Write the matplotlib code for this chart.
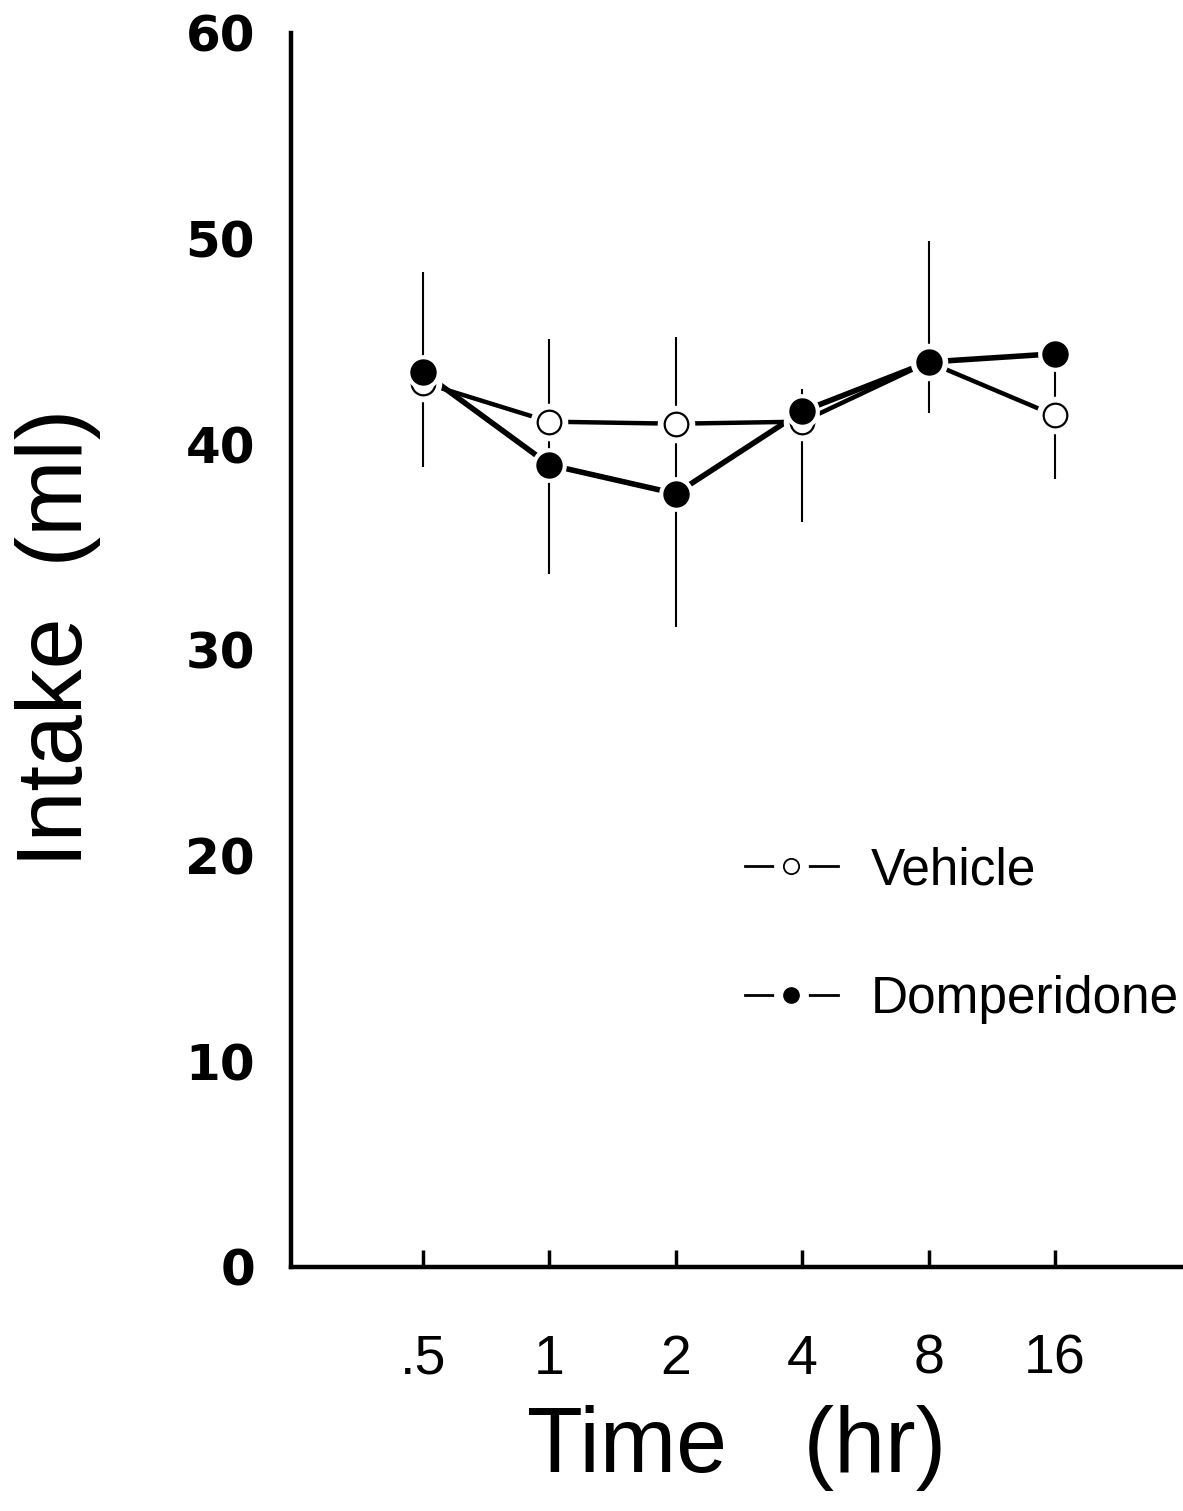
import numpy as np
import matplotlib
matplotlib.use('Agg')
import matplotlib.pyplot as plt
from matplotlib.lines import Line2D
from matplotlib.legend_handler import HandlerTuple
from matplotlib.ticker import FixedLocator

# data
times = ['.5', '1', '2', '4', '8', '16']
vehicle = [43.0, 41.1, 41.0, 41.1, 44.0, 41.4]
domperidone = [43.5, 39.0, 37.6, 41.6, 44.0, 44.4]
err_lo = [38.9, 33.7, 31.1, 36.2, 41.5, 38.3]
err_hi = [48.4, 45.1, 45.2, 42.7, 49.9, 44.2]
yticks = [0, 10, 20, 30, 40, 50, 60]

fig = plt.figure(figsize=(11.83, 15.11), dpi=100)
ax = fig.add_axes([0.246, 0.1615, 0.754, 0.8167])

x = np.arange(len(times))

# error bars (thin vertical lines)
ax.vlines(x, err_lo, err_hi, colors='k', lw=1.5, zorder=2)

# connecting lines
ax.plot(x, vehicle, color='k', lw=3.2, zorder=2, solid_capstyle='butt')
ax.plot(x, domperidone, color='k', lw=4.0, zorder=2, solid_capstyle='butt')

# white halos give the small gaps between lines and markers
ax.plot(x, vehicle, ls='none', marker='o', ms=26, mfc='white', mec='white', zorder=3)
ax.plot(x, vehicle, ls='none', marker='o', ms=17, mfc='white', mec='k', mew=1.6, zorder=4)
ax.plot(x, domperidone, ls='none', marker='o', ms=24, mfc='white', mec='white', zorder=5)
ax.plot(x, domperidone, ls='none', marker='o', ms=18, mfc='k', mec='k', zorder=6)

ax.set_xlim(-1.044, 6.013)
ax.set_ylim(0, 60)

for s in ['top', 'right']:
    ax.spines[s].set_visible(False)
for s in ['left', 'bottom']:
    ax.spines[s].set_linewidth(3.2)

ax.set_xticks(x)
ax.set_xticklabels(times, family=['Liberation Sans Narrow', 'Liberation Sans'], fontsize=40)
ax.tick_params(axis='x', direction='in', length=12, width=2.5, pad=48)

ax.set_yticks(yticks)
ax.set_yticklabels([str(v) for v in yticks], family='DejaVu Sans', fontweight='bold', fontsize=36)
ax.tick_params(axis='y', which='major', length=0, pad=26)
ax.yaxis.set_minor_locator(FixedLocator([60]))
ax.tick_params(axis='y', which='minor', direction='in', length=12, width=3)

ax.set_xlabel('Time   (hr)', family='Liberation Sans', fontsize=66)
ax.xaxis.set_label_coords(0.5, -0.112)
ax.set_ylabel('Intake  (ml)', family='Liberation Sans', fontsize=66)
ax.yaxis.set_label_coords(-0.213, 0.51)

# legend: line - marker - line with gaps
h_line = Line2D([], [], color='k', lw=2)
h_halo = Line2D([], [], ls='none', marker='o', ms=24, mfc='white', mec='white')
h_open = Line2D([], [], ls='none', marker='o', ms=11, mfc='white', mec='k', mew=1.3)
h_fill = Line2D([], [], ls='none', marker='o', ms=11, mfc='k', mec='k')
ax.legend([(h_line, h_halo, h_open), (h_line, h_halo, h_fill)],
          ['Vehicle', 'Domperidone'],
          handler_map={tuple: HandlerTuple(ndivide=1, pad=0)},
          loc='upper left', bbox_to_anchor=(0.509, 0.341), frameon=False,
          borderpad=0, borderaxespad=0, handlelength=1.8, handletextpad=0.65,
          labelspacing=1.55, prop={'family': 'Liberation Sans', 'size': 37})

fig.savefig('out.png', dpi=100)
